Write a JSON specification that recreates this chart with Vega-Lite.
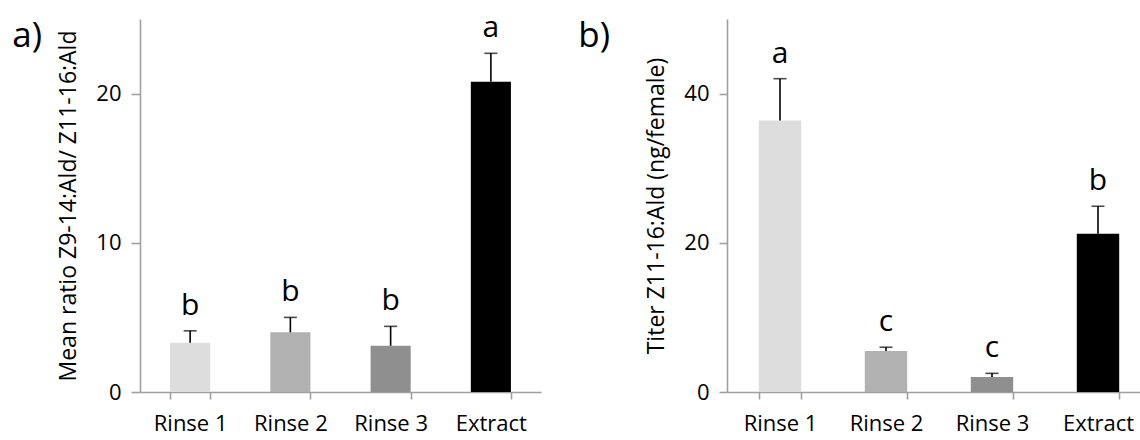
{
  "$schema": "https://vega.github.io/schema/vega-lite/v6.json",
  "padding": {"left": 12, "top": 13, "right": 0, "bottom": 0},
  "background": "white",
  "config": {
    "font": "Open Sans",
    "view": {"stroke": null},
    "axis": {
      "domainColor": "#a0a0a0",
      "domainWidth": 1.6,
      "tickColor": "#a0a0a0",
      "tickWidth": 1.6,
      "labelColor": "#000000",
      "titleColor": "#000000",
      "labelFont": "Open Sans",
      "titleFont": "Open Sans",
      "titleFontWeight": "normal",
      "grid": false
    },
    "title": {"font": "Open Sans", "fontWeight": "normal", "color": "#000000"}
  },
  "spacing": 37,
  "hconcat": [
    {
      "width": 401,
      "height": 373,
      "title": {"text": "a)", "orient": "left", "anchor": "end", "angle": 0, "frame": "group", "baseline": "top", "align": "right", "fontSize": 35, "offset": -14},
      "data": {"values": [
        {"group": "Rinse 1", "mean": 3.3, "upper": 4.1, "letter": "b"},
        {"group": "Rinse 2", "mean": 4.0, "upper": 5.0, "letter": "b"},
        {"group": "Rinse 3", "mean": 3.1, "upper": 4.4, "letter": "b"},
        {"group": "Extract", "mean": 20.8, "upper": 22.7, "letter": "a"}
      ]},
      "encoding": {
        "x": {
          "field": "group", "type": "nominal", "sort": null,
          "scale": {"paddingInner": 0.6, "paddingOuter": 0.3},
          "axis": {"title": null, "labelAngle": 0, "tickBand": "extent", "tickSize": 7, "labelPadding": 14, "labelFontSize": 22}
        }
      },
      "layer": [
        {
          "mark": {"type": "bar"},
          "encoding": {
            "y": {
              "field": "mean", "type": "quantitative",
              "scale": {"domain": [0, 25], "nice": false},
              "axis": {"title": "Mean ratio Z9-14:Ald/ Z11-16:Ald", "values": [0, 10, 20], "tickSize": 9, "labelPadding": 10, "labelFontSize": 22, "titleFontSize": 23, "titlePadding": 15}
            },
            "color": {
              "field": "group", "type": "nominal", "legend": null,
              "scale": {"domain": ["Rinse 1", "Rinse 2", "Rinse 3", "Extract"], "range": ["#dddddd", "#b1b1b1", "#8f8f8f", "#000000"]}
            }
          }
        },
        {
          "mark": {"type": "rule", "color": "#000000", "strokeWidth": 1.6},
          "encoding": {"y": {"field": "mean", "type": "quantitative"}, "y2": {"field": "upper"}}
        },
        {
          "mark": {"type": "tick", "color": "#000000", "thickness": 1.6, "size": 13},
          "encoding": {"y": {"field": "upper", "type": "quantitative"}}
        },
        {
          "mark": {"type": "text", "fontSize": 30, "baseline": "alphabetic", "dy": -16, "color": "#000000"},
          "encoding": {"y": {"field": "upper", "type": "quantitative"}, "text": {"field": "letter"}}
        }
      ]
    },
    {
      "width": 424,
      "height": 373,
      "title": {"text": "b)", "orient": "left", "anchor": "end", "angle": 0, "frame": "group", "baseline": "top", "align": "right", "fontSize": 35, "offset": 4},
      "data": {"values": [
        {"group": "Rinse 1", "mean": 36.4, "upper": 42.0, "letter": "a"},
        {"group": "Rinse 2", "mean": 5.5, "upper": 6.0, "letter": "c"},
        {"group": "Rinse 3", "mean": 2.0, "upper": 2.5, "letter": "c"},
        {"group": "Extract", "mean": 21.2, "upper": 24.9, "letter": "b"}
      ]},
      "encoding": {
        "x": {
          "field": "group", "type": "nominal", "sort": null,
          "scale": {"paddingInner": 0.6, "paddingOuter": 0.3},
          "axis": {"title": null, "labelAngle": 0, "tickBand": "extent", "tickSize": 7, "labelPadding": 14, "labelFontSize": 22}
        }
      },
      "layer": [
        {
          "mark": {"type": "bar"},
          "encoding": {
            "y": {
              "field": "mean", "type": "quantitative",
              "scale": {"domain": [0, 50], "nice": false},
              "axis": {"title": "Titer Z11-16:Ald (ng/female)", "values": [0, 20, 40], "tickSize": 8, "labelPadding": 10, "labelFontSize": 22, "titleFontSize": 23, "titlePadding": 15}
            },
            "color": {
              "field": "group", "type": "nominal", "legend": null,
              "scale": {"domain": ["Rinse 1", "Rinse 2", "Rinse 3", "Extract"], "range": ["#dddddd", "#b1b1b1", "#8f8f8f", "#000000"]}
            }
          }
        },
        {
          "mark": {"type": "rule", "color": "#000000", "strokeWidth": 1.6},
          "encoding": {"y": {"field": "mean", "type": "quantitative"}, "y2": {"field": "upper"}}
        },
        {
          "mark": {"type": "tick", "color": "#000000", "thickness": 1.6, "size": 13},
          "encoding": {"y": {"field": "upper", "type": "quantitative"}}
        },
        {
          "mark": {"type": "text", "fontSize": 30, "baseline": "alphabetic", "dy": -16, "color": "#000000"},
          "encoding": {"y": {"field": "upper", "type": "quantitative"}, "text": {"field": "letter"}}
        }
      ]
    }
  ]
}
